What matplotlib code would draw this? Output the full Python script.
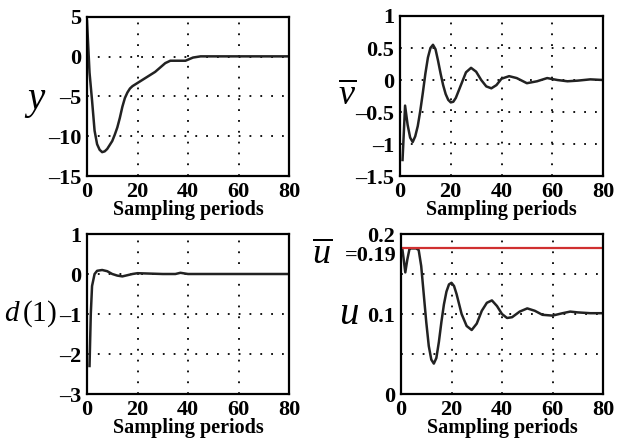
import matplotlib
matplotlib.use("Agg")
import matplotlib.pyplot as plt

# output y
y_x = [0, 1, 2, 3, 4, 5, 6, 7, 8, 9, 10, 11, 12, 13, 14, 15, 16, 17, 18, 20, 23,
       27, 31, 33, 36, 39, 42, 45, 50, 60, 70, 80]
y_val = [4.5, -2, -5.5, -9.3, -11.0, -11.7, -12, -11.9, -11.6, -11.1, -10.6,
         -9.8, -8.9, -7.7, -6.3, -5.2, -4.5, -4.0, -3.7, -3.3, -2.7, -1.9, -0.8,
         -0.5, -0.5, -0.5, -0.1, 0.05, 0.05, 0.05, 0.05, 0.05]

# v bar
v_x = [1, 2, 3, 4, 5, 6, 7, 8, 9, 10, 11, 12, 13, 14, 15, 16, 17, 18, 19, 20, 21,
       22, 24, 26, 28, 30, 32, 34, 36, 38, 40, 43, 46, 50, 54, 58, 62, 66, 70, 75, 80]
v_val = [-1.25, -0.4, -0.7, -0.9, -0.97, -0.88, -0.72, -0.48, -0.2, 0.1, 0.35,
         0.5, 0.55, 0.48, 0.3, 0.1, -0.08, -0.22, -0.31, -0.35, -0.34, -0.28,
         -0.08, 0.12, 0.19, 0.13, 0.0, -0.1, -0.13, -0.08, 0.02, 0.06, 0.03,
         -0.05, -0.02, 0.03, 0.0, -0.02, -0.01, 0.01, 0.0]

# d(1)
d_x = [1, 1.5, 2, 3, 4, 6, 8, 10, 12, 14, 16, 18, 20, 25, 30, 35, 37, 40, 50, 60, 70, 80]
d_val = [-2.3, -1.0, -0.3, 0.0, 0.08, 0.1, 0.07, 0.0, -0.04, -0.06, -0.03, 0.0,
         0.02, 0.01, 0.0, 0.0, 0.03, 0.0, 0.0, 0.0, 0.0, 0.0]

# u and its bound
u_bar = 0.182
u_x = [0.5, 1, 1.7, 2.5, 3.4, 4, 5, 6, 7, 8, 9, 10, 11, 12, 13, 14, 15, 16, 17,
       18, 19, 20, 21, 22, 24, 26, 28, 30, 32, 34, 36, 38, 40, 42, 44, 47, 50,
       53, 56, 60, 64, 67, 70, 75, 80]
u_val = [0.182, 0.17, 0.152, 0.168, 0.182, 0.182, 0.182, 0.182, 0.18, 0.16,
         0.125, 0.09, 0.06, 0.043, 0.038, 0.045, 0.065, 0.09, 0.112, 0.128,
         0.137, 0.139, 0.135, 0.125, 0.1, 0.085, 0.08, 0.088, 0.104, 0.114,
         0.117, 0.11, 0.1, 0.095, 0.096, 0.103, 0.107, 0.104, 0.099, 0.098,
         0.101, 0.103, 0.102, 0.101, 0.101]

x_ticks = [0, 20, 40, 60, 80]
y_ticks = [-15, -10, -5, 0, 5]
v_ticks = [-1.5, -1, -0.5, 0, 0.5, 1]
d_ticks = [-3, -2, -1, 0, 1]
u_ticks = [0, 0.05, 0.1, 0.15, 0.2]
u_tick_labels = ["0", "", "0.1", "", "0.2"]

plt.rcParams["font.family"] = "Liberation Serif"
plt.rcParams["font.weight"] = "bold"
plt.rcParams["mathtext.fontset"] = "custom"
plt.rcParams["mathtext.rm"] = "Liberation Serif:weight=normal"
plt.rcParams["mathtext.it"] = "Liberation Serif:style=italic:weight=normal"

fig = plt.figure(figsize=(6.19, 4.40), dpi=100)
W, H = 619, 440


def dash(values):
    # en dash minus, like the original figure
    return [f"{v:g}".replace("-", "\u2013") for v in values]


def make_axes(left, top, right, bottom):
    ax = fig.add_axes([left / W, 1 - bottom / H, (right - left) / W, (bottom - top) / H])
    for s in ax.spines.values():
        s.set_linewidth(1.6)
    ax.tick_params(length=0, labelsize=16, pad=4)
    ax.set_xlim(0, 80)
    ax.set_xticks(x_ticks)
    ax.set_xlabel("Sampling periods", fontsize=14.5, fontweight="bold", labelpad=-1)
    ax.grid(True, color="black", linestyle=(0, (1, 5)), linewidth=1.3)
    return ax


lc = "#222222"
lw = 1.8

ax1 = make_axes(87, 17, 289, 176)
ax1.plot(y_x, y_val, color=lc, lw=lw)
ax1.set_ylim(-15, 5)
ax1.set_yticks(y_ticks)
ax1.set_yticklabels(dash(y_ticks))
ax1.set_ylabel("$y$", fontsize=28, rotation=0, va="center")
ax1.yaxis.set_label_coords(-0.255, 0.47)

ax2 = make_axes(400, 16, 603, 176)
ax2.plot(v_x, v_val, color=lc, lw=lw)
ax2.set_ylim(-1.5, 1)
ax2.set_yticks(v_ticks)
ax2.set_yticklabels(dash(v_ticks))
ax2.set_ylabel(r"$\overline{v}$", fontsize=26, rotation=0, va="center")
ax2.yaxis.set_label_coords(-0.26, 0.5)

ax3 = make_axes(87, 234, 289, 394)
ax3.plot(d_x, d_val, color=lc, lw=lw)
ax3.set_ylim(-3, 1)
ax3.set_yticks(d_ticks)
ax3.set_yticklabels(dash(d_ticks))
ax3.set_ylabel(r"$d\,(1)$", fontsize=21, rotation=0, va="center", ha="right")
ax3.yaxis.set_label_coords(-0.15, 0.5)

ax4 = make_axes(401, 234, 603, 394)
ax4.plot(u_x, u_val, color=lc, lw=lw)
ax4.axhline(u_bar, color="#d03030", lw=1.6)
ax4.set_ylim(0, 0.2)
ax4.set_yticks(u_ticks)
ax4.set_yticklabels(u_tick_labels)
ax4.set_ylabel("$u$", fontsize=28, rotation=0, va="center")
ax4.yaxis.set_label_coords(-0.255, 0.5)
ax4.text(-0.02, u_bar - 0.009, "=0.19", transform=ax4.get_yaxis_transform(),
         ha="right", va="center", fontsize=16, fontweight="bold")
ax4.text(-0.39, u_bar - 0.008, r"$\overline{u}$", transform=ax4.get_yaxis_transform(),
         ha="center", va="center", fontsize=26)

fig.savefig("out.png", dpi=100)
